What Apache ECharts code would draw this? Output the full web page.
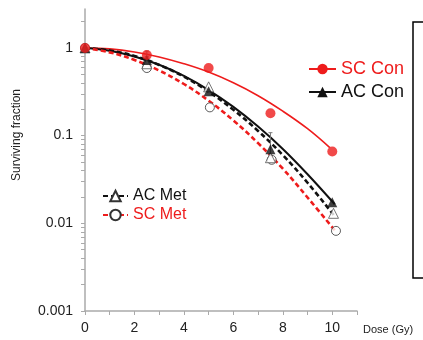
<!DOCTYPE html>
<html><head><meta charset="utf-8">
<script src="https://cdn.jsdelivr.net/npm/echarts@6/dist/echarts.min.js"></script>
<style>html,body{margin:0;padding:0;background:#fff}#c{width:423px;height:340px}</style>
</head><body><div id="c"></div>
<script>
// ---- data ----
const seriesNames = ['SC Con', 'AC Con', 'AC Met', 'SC Met'];
// measured points
const scConDose = [0, 2.5, 5, 7.5, 10];
const scConVal  = [1, 0.83, 0.59, 0.18, 0.066];
const acConDose = [0, 2.5, 5, 7.5, 10];
const acConVal  = [1, 0.73, 0.32, 0.07, 0.0174];
const acMetDose = [0, 2.5, 5, 7.5, 10.05];
const acMetVal  = [1, 0.66, 0.36, 0.056, 0.013];
const scMetDose = [0, 2.5, 5.05, 7.55, 10.15];
const scMetVal  = [1, 0.59, 0.21, 0.053, 0.0082];
// fitted curves
const scConCurveDose = [0, 1, 2, 3, 4, 5, 6, 7, 8, 9, 9.9];
const scConCurveVal  = [1, 0.975, 0.9, 0.79, 0.66, 0.53, 0.4, 0.285, 0.19, 0.12, 0.073];
const acConCurveDose = [0, 1, 2, 3, 4, 5, 6, 7, 8, 9, 10.1];
const acConCurveVal  = [1, 0.93, 0.8, 0.643, 0.479, 0.331, 0.213, 0.127, 0.0705, 0.0363, 0.0165];
const acMetCurveDose = [0, 1, 2, 3, 4, 5, 6, 7, 8, 9, 10.1];
const acMetCurveVal  = [1, 0.935, 0.81, 0.64, 0.47, 0.317, 0.197, 0.113, 0.06, 0.029, 0.012];
const scMetCurveDose = [0, 1, 2, 3, 4, 5, 6, 7, 8, 9, 10.15];
const scMetCurveVal  = [1, 0.89, 0.73, 0.553, 0.388, 0.25, 0.149, 0.082, 0.042, 0.0197, 0.008];
// error bars: dose, low, high
const errDose = [2.5, 7.5, 2.5];
const errLow  = [0.77, 0.06, 0.66];
const errHigh = [0.92, 0.108, 0.8];
const errColor = ['#777', '#777', '#777'];
// axis ticks
const xLabelVals = [0, 2, 4, 6, 8, 10];
const yLabelVals = [0.001, 0.01, 0.1, 1];
const yMinorTicks = [0.001,0.002,0.003,0.004,0.005,0.006,0.007,0.008,0.009,
  0.01,0.02,0.03,0.04,0.05,0.06,0.07,0.08,0.09,
  0.1,0.2,0.3,0.4,0.5,0.6,0.7,0.8,0.9,1,2];

const RED = '#ee1c1c', BLACK = '#111';
const FONT = 'Liberation Sans, Arial, sans-serif';
const zip = (a, b) => a.map((v, i) => [v, b[i]]);

const chart = echarts.init(document.getElementById('c'), null, {renderer: 'canvas'});
const lineCommon = {type: 'line', smooth: 0.4, showSymbol: false, silent: true, z: 2};
const scatCommon = {type: 'scatter', symbolSize: 9, z: 4, silent: true};

const option = {
  animation: false,
  backgroundColor: '#fff',
  grid: {left: 85, top: 9, width: 272, height: 302, containLabel: false},
  xAxis: {
    type: 'value', min: 0, max: 11, interval: 1,
    axisLine: {lineStyle: {color: '#aaa', width: 1.5}},
    axisTick: {length: 4, lineStyle: {color: '#aaa'}},
    axisLabel: {customValues: xLabelVals, color: '#222', fontSize: 14, fontFamily: FONT, margin: 10},
    splitLine: {show: false}
  },
  yAxis: {
    type: 'log', logBase: 10, min: 0.001, max: 2.78,
    axisLine: {show: true, lineStyle: {color: '#aaa', width: 1.5}},
    axisTick: {show: true, customValues: yMinorTicks, length: 4, lineStyle: {color: '#aaa'}},
    axisLabel: {customValues: yLabelVals, color: '#222', fontSize: 14, fontFamily: FONT, margin: 12,
      formatter: v => String(+v.toPrecision(3))},
    splitLine: {show: false}
  },
  legend: [
    {data: [{name: 'SC Con', textStyle: {color: RED}}, {name: 'AC Con', textStyle: {color: BLACK}}],
     orient: 'vertical', left: 303, top: 55, itemWidth: 27, itemHeight: 13, itemGap: 5,
     textStyle: {fontSize: 18, fontFamily: FONT}, selectedMode: false},
    {data: [{name: 'AC Met', textStyle: {color: BLACK}}, {name: 'SC Met', textStyle: {color: RED}}],
     orient: 'vertical', left: 97, top: 183, itemWidth: 25, itemHeight: 13, itemGap: 3,
     textStyle: {fontSize: 16, fontFamily: FONT}, selectedMode: false}
  ],
  graphic: [
    {type: 'rect', shape: {x: 413, y: 22, width: 30, height: 256}, style: {fill: 'none', stroke: '#000', lineWidth: 1.5}},
    {type: 'text', x: 17, y: 135, rotation: Math.PI / 2,
     style: {text: 'Surviving fraction', fontSize: 12, fontFamily: FONT, fill: '#222', align: 'center', verticalAlign: 'middle'}},
    {type: 'text', x: 363, y: 330,
     style: {text: 'Dose (Gy)', fontSize: 11, fontFamily: FONT, fill: '#222', align: 'left', verticalAlign: 'middle'}}
  ],
  series: [
    Object.assign({}, lineCommon, {name: 'SC Con', data: zip(scConCurveDose, scConCurveVal),
      symbol: 'circle', lineStyle: {color: RED, width: 1.6}, itemStyle: {color: RED}}),
    Object.assign({}, lineCommon, {name: 'AC Con', data: zip(acConCurveDose, acConCurveVal),
      symbol: 'triangle', lineStyle: {color: BLACK, width: 2}, itemStyle: {color: BLACK}}),
    Object.assign({}, lineCommon, {name: 'AC Met', data: zip(acMetCurveDose, acMetCurveVal),
      symbol: 'triangle', lineStyle: {color: BLACK, width: 2.6, type: [5, 3]}, itemStyle: {color: '#fff', borderColor: '#333', borderWidth: 1}}),
    Object.assign({}, lineCommon, {name: 'SC Met', data: zip(scMetCurveDose, scMetCurveVal),
      symbol: 'circle', lineStyle: {color: RED, width: 2.6, type: [5, 3]}, itemStyle: {color: '#fff', borderColor: '#333', borderWidth: 1}}),
    {type: 'custom', silent: true, z: 3, data: errDose.map((d, i) => [d, errLow[i], errHigh[i], i]),
      renderItem: (params, api) => {
        const lo = api.coord([api.value(0), api.value(1)]);
        const hi = api.coord([api.value(0), api.value(2)]);
        const c = errColor[api.value(3)];
        return {type: 'group', children: [
          {type: 'line', shape: {x1: lo[0], y1: lo[1], x2: hi[0], y2: hi[1]}, style: {stroke: c, lineWidth: 1}},
          {type: 'line', shape: {x1: hi[0] - 2, y1: hi[1], x2: hi[0] + 2, y2: hi[1]}, style: {stroke: c, lineWidth: 1}},
          {type: 'line', shape: {x1: lo[0] - 2, y1: lo[1], x2: lo[0] + 2, y2: lo[1]}, style: {stroke: c, lineWidth: 1}}
        ]};
      }},
    Object.assign({}, scatCommon, {name: 'SC Met', data: zip(scMetDose, scMetVal), symbol: 'circle', symbolSize: 9,
      itemStyle: {color: '#fff', borderColor: '#333', borderWidth: 1}}),
    Object.assign({}, scatCommon, {name: 'AC Met', data: zip(acMetDose, acMetVal), symbol: 'triangle', symbolSize: 10,
      itemStyle: {color: '#fff', borderColor: '#555', borderWidth: 1}}),
    Object.assign({}, scatCommon, {name: 'AC Con', data: zip(acConDose, acConVal), symbol: 'triangle', symbolSize: 10,
      itemStyle: {color: BLACK}}),
    Object.assign({}, scatCommon, {name: 'SC Con', data: zip(scConDose, scConVal), symbol: 'circle', symbolSize: 10,
      itemStyle: {color: RED}})
  ]
};
chart.setOption(option);
</script>
</body></html>
